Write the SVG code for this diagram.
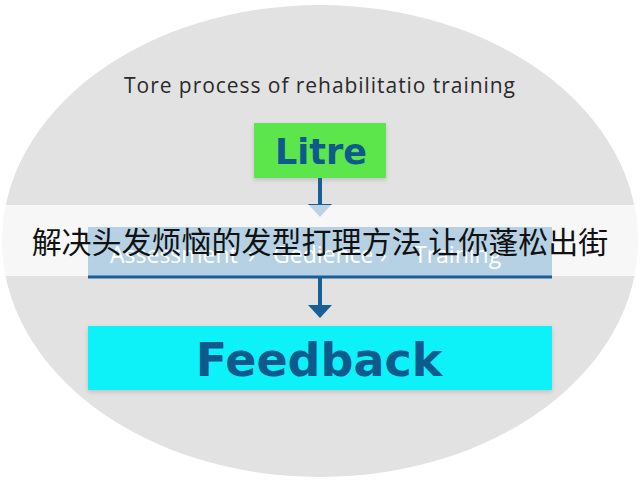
<svg xmlns="http://www.w3.org/2000/svg" width="640" height="480" viewBox="0 0 640 480">
<style>
.title{font-family:"Open Sans","DejaVu Sans",sans-serif;font-size:21px;letter-spacing:0.95px;fill:#2a2a2a}
.node-label{font-family:"DejaVu Sans","Open Sans",sans-serif;font-weight:bold;fill:#0f5a8c;text-anchor:middle}
.steps{font-family:"Open Sans","DejaVu Sans",sans-serif;font-size:23px;fill:#ffffff}
.caption{font-family:"Noto Sans CJK SC","Liberation Sans",sans-serif;font-size:30px;fill:#111111;text-anchor:middle}
.conn{stroke:#1a5e96;stroke-width:4;fill:none}
.head{fill:#1a5e96}
</style>
<defs>
<filter id="sh" x="-10%" y="-20%" width="120%" height="150%">
<feDropShadow dx="0" dy="2" stdDeviation="2" flood-color="#000" flood-opacity="0.15"/>
</filter>
</defs>
<rect width="640" height="480" fill="#ffffff"/>
<ellipse cx="320" cy="241" rx="318" ry="236" fill="#e2e2e2"/>
<text class="title" x="320" y="93" text-anchor="middle">Tore process of rehabilitatio training</text>
<g id="node-litre">
<rect x="254" y="123" width="132" height="55" fill="#5ce64b" filter="url(#sh)"/>
<text class="node-label" x="321" y="164" font-size="35">Litre</text>
</g>
<g id="connectors-top">
<line class="conn" x1="320" y1="178" x2="320" y2="206"/>
<polygon class="head" points="308,204 332,204 320,217"/>
</g>
<rect id="band" x="0" y="205" width="640" height="71" fill="#ffffff" fill-opacity="0.72"/>
<g id="node-steps">
<rect x="88" y="227" width="464" height="50" fill="#b6d1e4"/>
<line x1="88" y1="277" x2="552" y2="277" stroke="#1a5e96" stroke-width="3"/>
<text class="steps" y="263"><tspan x="110">Assessment</tspan><tspan x="248">›</tspan><tspan x="273">Gedience</tspan><tspan x="380">›</tspan><tspan x="414">Training</tspan></text>
</g>
<g id="connectors">
<line class="conn" x1="320" y1="278" x2="320" y2="308"/>
<polygon class="head" points="308,305 332,305 320,318"/>
</g>
<g id="node-feedback">
<rect x="88" y="326" width="464" height="64" fill="#0ef2f8" filter="url(#sh)"/>
<text class="node-label" x="319" y="376" font-size="46">Feedback</text>
</g>
<text class="caption" x="320" y="253">解决头发烦恼的发型打理方法 让你蓬松出街</text>
</svg>
